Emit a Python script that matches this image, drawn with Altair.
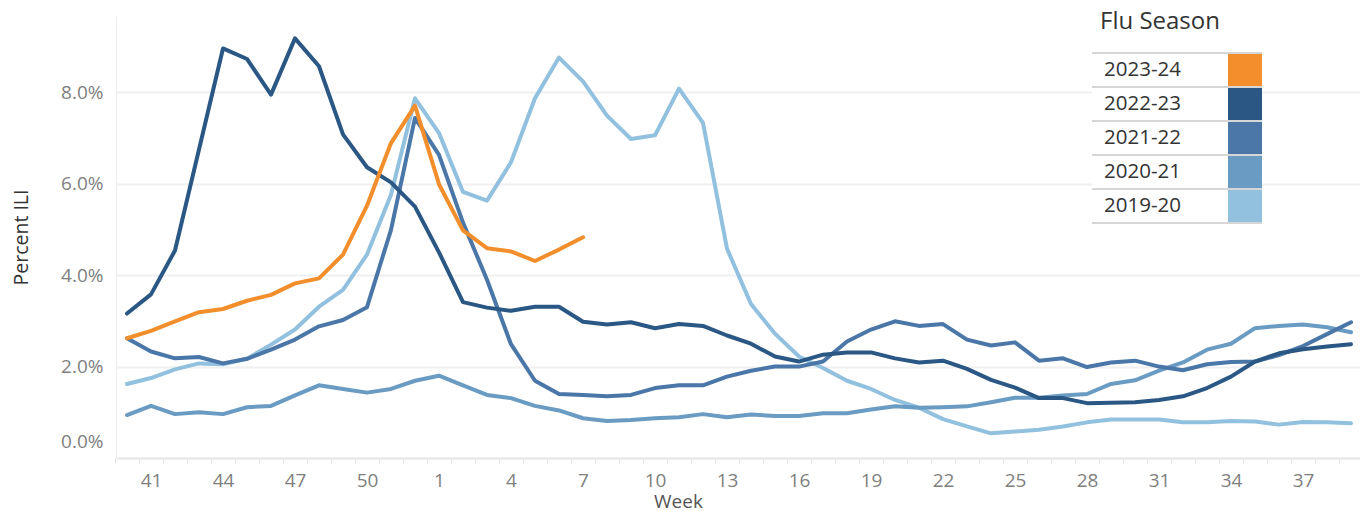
import altair as alt
import pandas as pd

# Week labels for the 52 positions (season week 40 .. week 39)
weeks = list(range(40, 53)) + list(range(1, 40))

seasons = ["2023-24", "2022-23", "2021-22", "2020-21", "2019-20"]
colors = ["#F28E2B", "#2A5783", "#4A76A8", "#6A9BC3", "#92C0DF"]

ili_2023_24 = [2.62, 2.78, 2.99, 3.19, 3.26, 3.44, 3.57, 3.82, 3.93, 4.45, 5.52, 6.89, 7.71,
               5.99, 4.98, 4.59, 4.52, 4.31, 4.56, 4.83]
ili_2022_23 = [3.16, 3.58, 4.54, 6.75, 8.96, 8.73, 7.95, 9.18, 8.57, 7.08, 6.36, 6.03, 5.50,
               4.50, 3.41, 3.29, 3.22, 3.31, 3.31, 2.98, 2.92, 2.97, 2.84, 2.93, 2.89, 2.68,
               2.50, 2.22, 2.11, 2.26, 2.31, 2.31, 2.18, 2.09, 2.13, 1.95, 1.71, 1.54, 1.31,
               1.31, 1.20, 1.21, 1.22, 1.27, 1.35, 1.53, 1.78, 2.11, 2.29, 2.38, 2.44, 2.49]
ili_2021_22 = [2.62, 2.33, 2.18, 2.21, 2.07, 2.17, 2.37, 2.59, 2.88, 3.02, 3.30, 4.99, 7.44,
               6.63, 5.15, 3.90, 2.49, 1.69, 1.40, 1.38, 1.35, 1.38, 1.53, 1.59, 1.59, 1.78,
               1.91, 2.00, 2.00, 2.11, 2.55, 2.81, 2.99, 2.89, 2.93, 2.59, 2.46, 2.53, 2.13,
               2.18, 1.99, 2.09, 2.13, 2.00, 1.92, 2.05, 2.10, 2.11, 2.25, 2.45, 2.71, 2.97]
ili_2020_21 = [0.94, 1.14, 0.96, 1.00, 0.96, 1.11, 1.14, 1.37, 1.59, 1.51, 1.43, 1.51, 1.69,
               1.80, 1.59, 1.38, 1.31, 1.14, 1.04, 0.87, 0.81, 0.83, 0.87, 0.89, 0.96, 0.89,
               0.95, 0.92, 0.92, 0.98, 0.98, 1.06, 1.13, 1.10, 1.11, 1.13, 1.22, 1.32, 1.32,
               1.37, 1.40, 1.62, 1.70, 1.91, 2.09, 2.37, 2.50, 2.84, 2.89, 2.92, 2.86, 2.75]
ili_2019_20 = [1.62, 1.75, 1.94, 2.07, 2.05, 2.17, 2.48, 2.81, 3.31, 3.68, 4.45, 5.76, 7.87,
               7.11, 5.82, 5.63, 6.47, 7.87, 8.76, 8.24, 7.49, 6.98, 7.06, 8.08, 7.33, 4.58,
               3.37, 2.72, 2.22, 1.97, 1.69, 1.51, 1.27, 1.10, 0.85, 0.69, 0.54, 0.58, 0.62,
               0.69, 0.78, 0.84, 0.84, 0.84, 0.78, 0.78, 0.81, 0.80, 0.73, 0.79, 0.78, 0.76]

series = {
    "2023-24": ili_2023_24,
    "2022-23": ili_2022_23,
    "2021-22": ili_2021_22,
    "2020-21": ili_2020_21,
    "2019-20": ili_2019_20,
}

rows = []
for s, vals in series.items():
    for i, v in enumerate(vals):
        rows.append({"idx": i, "week": weeks[i], "season": s, "value": v})
df = pd.DataFrame(rows)

FONT = "Open Sans"
color_scale = alt.Scale(domain=seasons, range=colors)

label_expr = ("(datum.value - 1) % 3 == 0 ? "
              "'' + (datum.value <= 12 ? datum.value + 40 : datum.value - 12) : ''")

x_enc = alt.X(
    "idx:Q",
    scale=alt.Scale(domain=[-0.458, 51.375], nice=False, zero=False),
    axis=alt.Axis(
        values=list(range(52)), labelExpr=label_expr,
        tickOffset=-12, labelOffset=12, tickSize=5, tickColor="#e4e4e4", tickWidth=1,
        domainColor="#e8e8e8", domainWidth=2, grid=False,
        labelFont=FONT, labelFontSize=19, labelColor="#7f7f7f", labelPadding=8,
        labelOverlap=False, labelFlush=False, labelBound=False,
        title="Week", titleX=562, titleY=34, titleAlign="center",
        titleFont=FONT, titleFontSize=19, titleColor="#555555", titleFontWeight="normal",
    ),
)
y_enc = alt.Y(
    "value:Q",
    scale=alt.Scale(domain=[0, 9.67], nice=False, zero=True),
    axis=alt.Axis(
        values=[0, 2, 4, 6, 8], labelExpr="format(datum.value, '.1f') + '%'",
        grid=True, gridColor="#f0f0f0", gridWidth=2, ticks=False,
        domainColor="#ececec", domainWidth=1,
        labelFont=FONT, labelFontSize=19, labelColor="#7f7f7f", labelPadding=13,
        labelFlush=True, labelFlushOffset=-7,
        title="Percent ILI", titleX=-85, titleY=221,
        titleFont=FONT, titleFontSize=19.5, titleColor="#333333", titleFontWeight="normal",
    ),
)

draw_order = ["2019-20", "2020-21", "2021-22", "2022-23", "2023-24"]
line_layers = []
for s in draw_order:
    line_layers.append(
        alt.Chart(df[df.season == s]).mark_line(
            strokeWidth=4, strokeJoin="round", strokeCap="round"
        ).encode(
            x=x_enc, y=y_enc,
            color=alt.Color("season:N", scale=color_scale, legend=None),
        )
    )
main = alt.layer(*line_layers)

# ---- Table style legend (Tableau look) ----
leg_df = pd.DataFrame({"season": seasons})
leg_y = alt.Y("season:N", scale=alt.Scale(domain=seasons, range=[37, 207], padding=0), axis=None)

leg_bg = alt.Chart(leg_df).mark_point(
    shape="M-5,-1H5V1H-5Z", size=1156, filled=True, fill="white", opacity=1, strokeWidth=0
).encode(x=alt.value(1061), y=leg_y)

leg_rules = alt.Chart(leg_df).mark_rule(color="#d6d6d6", strokeWidth=2, yOffset=-17).encode(
    x=alt.value(976), x2=alt.value(1146), y=leg_y
)
leg_rule_bottom = alt.Chart(leg_df[leg_df.season == seasons[-1]]).mark_rule(
    color="#d6d6d6", strokeWidth=2, yOffset=17
).encode(x=alt.value(976), x2=alt.value(1146), y=leg_y)

leg_text = alt.Chart(leg_df).mark_text(
    align="left", baseline="middle", font=FONT, fontSize=20.5, color="#333333"
).encode(x=alt.value(988), y=leg_y, text="season:N")

leg_sw = alt.Chart(leg_df).mark_point(
    shape="M-1.0625,-1H1.0625V1H-1.0625Z", size=1024, filled=True, opacity=1, strokeWidth=0
).encode(
    x=alt.value(1129), y=leg_y,
    color=alt.Color("season:N", scale=color_scale, legend=None),
)

leg_title = alt.Chart(pd.DataFrame({"t": ["Flu Season"]})).mark_text(
    align="left", baseline="alphabetic", font=FONT, fontSize=24, color="#333333"
).encode(x=alt.value(984), y=alt.value(13), text="t:N")

legend = alt.layer(leg_bg, leg_rules, leg_rule_bottom, leg_text, leg_sw, leg_title)

chart = alt.layer(main, legend).resolve_scale(y="independent").properties(
    width=1244, height=442,
    padding={"left": 108, "top": 8, "right": 0, "bottom": 60},
    autosize=alt.AutoSizeParams(type="none"),
    background="white",
).configure_view(stroke=None)

chart.save("out.html", embed_options={"renderer": "svg", "actions": False})
